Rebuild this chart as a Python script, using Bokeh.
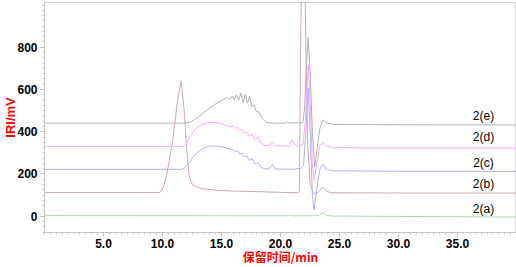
from bokeh.plotting import figure
from bokeh.models import FixedTicker, Range1d, NumeralTickFormatter
from bokeh.core.properties import value
from bokeh.embed import file_html
from bokeh.resources import INLINE

# ---- data ----
t_a = [0, 20.5, 20.7, 20.9, 22.6, 22.8, 23.0, 23.3, 23.6, 23.9, 24.3, 40]
v_a = [3, 2, 5, 2, 2, 6, 2, 6, 17, 5, 1, -4]

t_b = [0, 9.7, 9.9, 10.15, 10.4, 10.85, 11.25, 11.58, 11.83, 12.05, 12.25, 12.55,
       13.25, 14.6, 16.1, 18.3, 20.0, 21.5, 21.6, 21.7, 21.9, 22.05, 22.15, 22.3,
       22.5, 22.75, 22.9, 23.2, 23.6, 23.9, 24.3, 30, 40]
v_b = [112, 112, 118, 150, 210, 350, 538, 642, 506, 319, 194, 147,
       131, 123, 119, 116, 113, 111, 116, 800, 1500, 1200, 800, 350,
       160, 112, 105, 115, 138, 118, 111, 110, 110]

t_c = [0, 11.6, 11.9, 12.4, 12.9, 13.5, 14.1, 14.7, 15.2, 15.7, 16.0, 16.15, 16.35,
       16.55, 16.75, 16.95, 17.15, 17.35, 17.6, 17.85, 18.1, 18.35, 18.6, 18.9, 19.1,
       19.3, 19.55, 21.2, 21.4, 21.65, 21.95, 22.15, 22.35, 22.55, 22.7, 22.85, 23.05,
       23.35, 23.6, 23.9, 24.5, 30, 40]
v_c = [222, 222, 230, 264, 300, 323, 333, 331, 326, 318, 315, 305, 310,
       295, 298, 282, 285, 265, 272, 248, 255, 232, 226, 223, 228,
       245, 224, 222, 228, 223, 240, 400, 608, 350, 100, 30, 120,
       225, 245, 222, 215, 213, 212]

t_d = [0, 11.8, 12.0, 12.3, 12.7, 13.2, 13.8, 14.4, 15.0, 15.5, 15.8, 16.0, 16.15,
       16.35, 16.55, 16.75, 16.95, 17.15, 17.35, 17.6, 17.85, 18.1, 18.35, 18.6, 18.9,
       19.1, 19.3, 19.55, 20.75, 21.0, 21.25, 21.5, 21.9, 22.1, 22.35, 22.55, 22.7,
       22.85, 23.1, 23.35, 23.6, 23.9, 24.5, 30, 40]
v_d = [331, 331, 340, 375, 408, 430, 442, 445, 438, 428, 423, 426, 415,
       421, 405, 410, 393, 400, 378, 388, 362, 375, 345, 336, 333,
       338, 352, 333, 331, 362, 336, 331, 340, 450, 717, 500, 250,
       170, 260, 335, 350, 333, 325, 323, 322]

t_e = [0, 11.9, 12.4, 13.0, 13.5, 14.0, 14.5, 15.0, 15.25, 15.5, 15.7, 15.9, 16.08,
       16.27, 16.45, 16.64, 16.83, 17.02, 17.2, 17.38, 17.55, 17.75, 17.95, 18.2,
       18.45, 18.7, 19.0, 19.5, 20.45, 20.6, 20.75, 21.9, 22.05, 22.2, 22.35, 22.5,
       22.7, 22.9, 23.1, 23.35, 23.6, 23.9, 24.5, 30, 40]
v_e = [441, 441, 446, 468, 490, 512, 532, 549, 556, 562, 553, 568, 552,
       575, 548, 582, 538, 578, 535, 568, 520, 528, 497, 492,
       465, 448, 442, 441, 441, 447, 441, 443, 520, 720, 847, 690,
       400, 233, 320, 420, 456, 442, 435, 433, 432]

series_names = ["2(a)", "2(b)", "2(c)", "2(d)", "2(e)"]
x_ticks = [5, 10, 15, 20, 25, 30, 35]
y_ticks = [0, 200, 400, 600, 800]
x_title = "保留时间/min"
y_title = "IRI/mV"

# ---- styling / layout ----
colors = ["#b0d8b0", "#d4a8a8", "#aeaeff", "#ffa6ff", "#b0b0b0"]
label_y = [34, 151, 252, 374, 475]
label_x = 37.2

p = figure(width=516, height=267, output_backend="svg", toolbar_location=None,
           x_range=Range1d(0, 40), y_range=Range1d(-77, 1012),
           min_border_left=43, min_border_right=0, min_border_top=2, min_border_bottom=33)
p.background_fill_color = "white"
p.border_fill_color = "white"
p.outline_line_color = "#d4d4d4"
p.grid.visible = False

series = [(t_a, v_a), (t_b, v_b), (t_c, v_c), (t_d, v_d), (t_e, v_e)]
for (t, v), c in zip(series, colors):
    p.line(t, v, line_color=c, line_width=1)

p.text(x=[label_x] * 5, y=label_y, text=series_names, text_font=value("Liberation Sans"),
       text_font_size="12px", text_color="black", text_align="center", text_baseline="middle")

p.xaxis.ticker = FixedTicker(ticks=x_ticks, minor_ticks=[i * 0.5 for i in range(0, 81)])
p.yaxis.ticker = FixedTicker(ticks=y_ticks, minor_ticks=list(range(-75, 1013, 25)))
p.xaxis.formatter = NumeralTickFormatter(format="0.0")
p.yaxis.formatter = NumeralTickFormatter(format="0")

for ax in (p.xaxis, p.yaxis):
    ax.axis_line_color = "#c4c4c4"
    ax.major_tick_line_color = "#b8b8b8"
    ax.minor_tick_line_color = "#c4c4c4"
    ax.major_tick_out = 4
    ax.major_tick_in = 0
    ax.minor_tick_out = 2
    ax.minor_tick_in = 0
    ax.major_label_text_font = "Liberation Sans"
    ax.major_label_text_font_style = "bold"
    ax.major_label_text_font_size = "12px"
    ax.major_label_text_color = "black"
    ax.axis_label_text_color = "red"
    ax.axis_label_text_font_style = "bold"

p.xaxis.axis_label = x_title
p.xaxis.axis_label_text_font = "Noto Sans CJK SC"
p.xaxis.axis_label_text_font_size = "12px"
p.xaxis.major_label_standoff = 2
p.xaxis.axis_label_standoff = -3

p.yaxis.axis_label = y_title
p.yaxis.axis_label_text_font = "Liberation Sans"
p.yaxis.axis_label_text_font_size = "13px"
p.yaxis.major_label_standoff = 3
p.yaxis.axis_label_standoff = -4

open("out.html", "w").write(file_html(p, INLINE))
